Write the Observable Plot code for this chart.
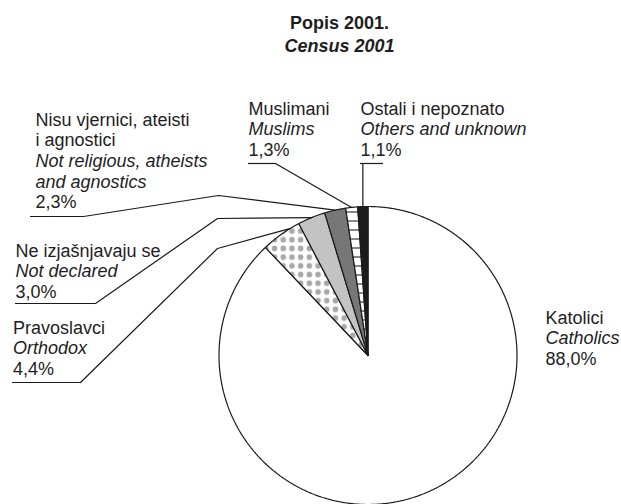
<!DOCTYPE html>
<html><head><meta charset="utf-8">
<script src="https://cdn.jsdelivr.net/npm/d3@7"></script>
<script src="https://cdn.jsdelivr.net/npm/@observablehq/plot@0.6"></script>
<style>body{margin:0;background:#fff} svg{display:block}</style>
</head><body><div id="chart"></div>
<script>
// ---- data ----
const categories = ["Katolici", "Pravoslavci", "Ne izjašnjavaju se", "Nisu vjernici, ateisti i agnostici", "Muslimani", "Ostali i nepoznato"];
const nativeLabels = [["Katolici"], ["Pravoslavci"], ["Ne izjašnjavaju se"], ["Nisu vjernici, ateisti", "i agnostici"], ["Muslimani"], ["Ostali i nepoznato"]];
const englishLabels = [["Catholics"], ["Orthodox"], ["Not declared"], ["Not religious, atheists", "and agnostics"], ["Muslims"], ["Others and unknown"]];
const shares = [88.0, 4.4, 3.0, 2.3, 1.3, 1.1];
const titleNative = "Popis 2001.";
const titleEnglish = "Census 2001";

// ---- layout / style ----
const W = 621, H = 504;
const pieCenter = [367.5, 355], pieRadius = 149;
const fills = ["#ffffff", "url(#dots)", "#c3c3c3", "#777777", "url(#hatch)", "#1c1c1c"];
const font = "'Liberation Sans', Arial, sans-serif";
const fontSize = 18;
const lineStep = 20.7;
const labelLayout = [
  {x: 545, y: 323},
  {x: 12.5, y: 333},
  {x: 15, y: 256},
  {x: 35, y: 125},
  {x: 248, y: 114},
  {x: 360, y: 114}
];
const leaderLayout = [
  null,
  {x1: 12, x2: 80, y: 382, via: [[217, 248]], t: 0.75},
  {x1: 15, x2: 95, y: 303, via: [[217, 218]], t: 0.5},
  {x1: 30, x2: 83, y: 216, via: [[218, 195]], t: 0.5},
  {x1: 248, x2: 275, y: 163, via: [], t: 0.5},
  {x1: 360, x2: 383, y: 163, via: "vertical", t: 0.5}
];
const titleLayout = {x: 339, y1: 28, y2: 51};

// ---- derived ----
const fmt = v => d3.format(".1f")(v).replace(".", ",") + "%";
const arcs = d3.pie().sort(null).value(d => d)(shares);
const pt = (a, r = pieRadius) => [pieCenter[0] + r * Math.sin(a), pieCenter[1] - r * Math.cos(a)];

const slicePts = [];
arcs.forEach((a, i) => {
  const n = Math.max(2, Math.ceil((a.endAngle - a.startAngle) / 0.005));
  const push = ([x, y]) => slicePts.push({cat: categories[i], fill: fills[i], x, y});
  push(pieCenter);
  for (let k = 0; k <= n; ++k) push(pt(a.startAngle + (a.endAngle - a.startAngle) * k / n));
  push(pieCenter);
});

const textRows = [];
categories.forEach((c, i) => {
  const {x, y} = labelLayout[i];
  let k = 0;
  nativeLabels[i].forEach(t => textRows.push({text: t, x, y: y + lineStep * k++, italic: false}));
  englishLabels[i].forEach(t => textRows.push({text: t, x, y: y + lineStep * k++, italic: true}));
  textRows.push({text: fmt(shares[i]), x, y: y + lineStep * k++, italic: false});
});

const underlines = [];
const connectorPts = [];
leaderLayout.forEach((L, i) => {
  if (!L) return;
  underlines.push({x1: L.x1, x2: L.x2, y: L.y});
  const a = arcs[i];
  const end = pt(a.startAngle + (a.endAngle - a.startAngle) * L.t);
  const pts = L.via === "vertical" ? [[end[0], L.y], end] : [[L.x2, L.y], ...L.via, end];
  pts.forEach(([x, y]) => connectorPts.push({cat: categories[i], x, y}));
});

const titleRows = [
  {text: titleNative, y: titleLayout.y1, italic: false},
  {text: titleEnglish, y: titleLayout.y2, italic: true}
];

const svg = Plot.plot({
  width: W, height: H,
  margin: 0,
  x: {domain: [0, W], range: [0, W], axis: null},
  y: {domain: [0, H], range: [0, H], axis: null},
  color: {type: "identity"},
  style: {fontFamily: font, background: "#fff"},
  marks: [
    Plot.line(slicePts, {x: "x", y: "y", z: "cat", fill: "fill", stroke: "#1a1a1a", strokeWidth: 1.2, strokeLinejoin: "miter"}),
    Plot.ruleY(underlines, {y: "y", x1: "x1", x2: "x2", stroke: "#1a1a1a", strokeWidth: 1.2}),
    Plot.line(connectorPts, {x: "x", y: "y", z: "cat", stroke: "#1a1a1a", strokeWidth: 1.2}),
    Plot.text(textRows.filter(d => !d.italic), {x: "x", y: "y", text: "text", textAnchor: "start", lineAnchor: "bottom", fontSize, fill: "#1e1e1e"}),
    Plot.text(textRows.filter(d => d.italic), {x: "x", y: "y", text: "text", textAnchor: "start", lineAnchor: "bottom", fontSize, fontStyle: "italic", fill: "#1e1e1e"}),
    Plot.text(titleRows.filter(d => !d.italic), {x: titleLayout.x, y: "y", text: "text", lineAnchor: "bottom", fontSize, fontWeight: "bold", fill: "#1e1e1e"}),
    Plot.text(titleRows.filter(d => d.italic), {x: titleLayout.x, y: "y", text: "text", lineAnchor: "bottom", fontSize, fontWeight: "bold", fontStyle: "italic", fill: "#1e1e1e"})
  ]
});

const defs = d3.select(svg).insert("defs", ":first-child");
const dots = defs.append("pattern").attr("id", "dots").attr("patternUnits", "userSpaceOnUse")
  .attr("width", 8.7).attr("height", 8.7);
dots.append("rect").attr("width", 8.7).attr("height", 8.7).attr("fill", "#fff");
dots.append("circle").attr("cx", 4.35).attr("cy", 4.35).attr("r", 2.8).attr("fill", "#a8a8a8");
const hatch = defs.append("pattern").attr("id", "hatch").attr("patternUnits", "userSpaceOnUse")
  .attr("width", 10).attr("height", 9);
hatch.append("rect").attr("width", 10).attr("height", 9).attr("fill", "#fff");
hatch.append("line").attr("x1", 0).attr("x2", 10).attr("y1", 4.5).attr("y2", 4.5).attr("stroke", "#111").attr("stroke-width", 1);

document.getElementById("chart").appendChild(svg);
</script>
</body></html>
